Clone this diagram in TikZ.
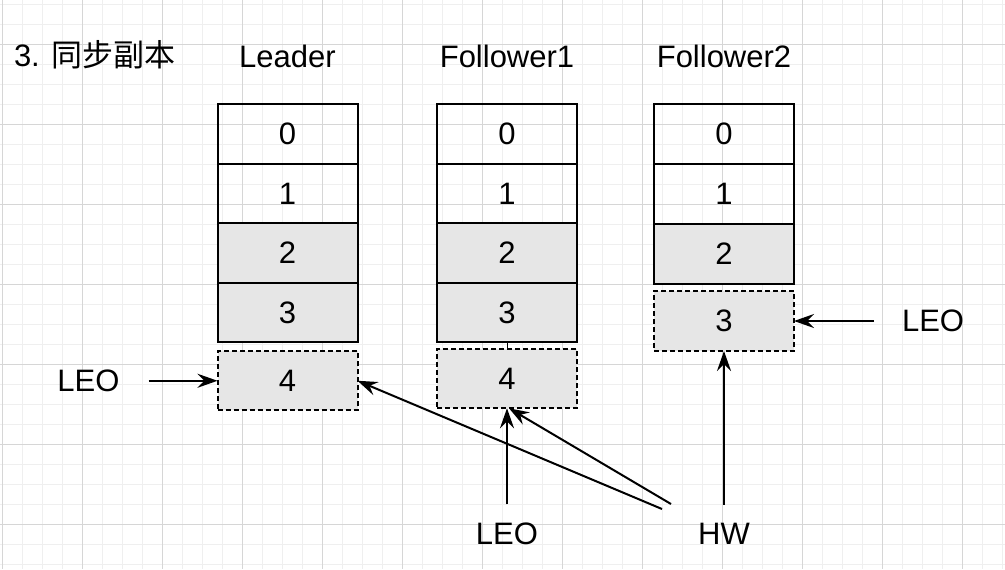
\documentclass[tikz,border=0pt]{standalone}
\usepackage{fontspec}
\setmainfont{Liberation Sans}
\newfontfamily\cjk{Noto Sans CJK SC}
\usetikzlibrary{positioning,arrows.meta}
\definecolor{gridminor}{HTML}{EFEFEF}
\definecolor{gridmajor}{HTML}{D6D6D6}
\definecolor{cellfill}{HTML}{E6E6E6}
\tikzset{
  slot/.style={draw, line width=1pt, minimum width=70pt, minimum height=29.75pt,
               inner sep=0pt, outer sep=0pt, font=\fontsize{15.5}{18}\selectfont},
  fullslot/.style={slot, fill=cellfill},
  newslot/.style={slot, fill=cellfill, dash pattern=on 2.5pt off 1.5pt},
  lbl/.style={inner sep=0pt, outer sep=0pt, font=\fontsize{15.5}{18}\selectfont},
  link/.style={->, line width=1pt},
  >={Stealth[length=10pt,width=7pt,inset=3.5pt]},
}
\begin{document}
\begin{tikzpicture}[x=0.5pt, y=-0.5pt]
\useasboundingbox (0,0) rectangle (1005,569);
\fill[white] (0,0) rectangle (1005,569);
\foreach \gx in {2,22,...,1002} \draw[gridminor, line width=0.5pt] (\gx,0) -- (\gx,569);
\foreach \gy in {4,24,...,564} \draw[gridminor, line width=0.5pt] (0,\gy) -- (1005,\gy);
\foreach \gx in {2,82,...,962} \draw[gridmajor, line width=0.5pt] (\gx,0) -- (\gx,569);
\foreach \gy in {44,124,...,524} \draw[gridmajor, line width=0.5pt] (0,\gy) -- (1005,\gy);

\node[slot] (l0) at (287.5,134) {0};
\node[slot, below=0pt of l0] (l1) {1};
\node[fullslot, below=0pt of l1] (l2) {2};
\node[fullslot, below=0pt of l2] (l3) {3};
\node[newslot, below=4.5pt of l3, minimum height=29.5pt] (l4) {4};

\node[slot] (f0) at (507,134) {0};
\node[slot, below=0pt of f0] (f1) {1};
\node[fullslot, below=0pt of f1] (f2) {2};
\node[fullslot, below=0pt of f2] (f3) {3};
\node[newslot, below=3.5pt of f3, minimum height=29.5pt] (f4) {4};

\node[slot, minimum height=30pt] (g0) at (724,134) {0};
\node[slot, minimum height=30pt, below=0pt of g0] (g1) {1};
\node[fullslot, minimum height=30pt, below=0pt of g1] (g2) {2};
\node[newslot, minimum height=30pt, below=3.5pt of g2] (g3) {3};

\node[lbl, anchor=base west] (title) at (14,66) {3. {\cjk 同步副本}};
\node[lbl, above=18pt of l0] (lhead) {Leader};
\node[lbl, above=18pt of f0] (fhead) {Follower1};
\node[lbl, above=18pt of g0] (ghead) {Follower2};

\node[lbl, left=49pt of l4] (leol) {LEO};
\node[lbl, right=54pt of g3] (leog) {LEO};
\node[lbl, below=57.5pt of f4] (leof) {LEO};
\node[lbl] (hw) at (leof -| g3) {HW};
\coordinate (hwa) at (662,509);
\coordinate (hwb) at (671,504);

\draw[link, shorten <=14.5pt] (leol.east) -- (l4.west);
\draw[link, shorten <=14pt] (leog.west) -- (g3.east);
\draw[link, shorten <=9.5pt] (leof.north) -- (f4.south);
\draw[link, shorten <=9.5pt] (hw.north) -- (hw.north |- g3.south);
\draw[link] (hwa) -- (l4.east);
\draw[link] (hwb) -- ([xshift=1pt]f4.south);
\draw[line width=0.5pt] (f3.south) -- (f4.north);
\end{tikzpicture}
\end{document}
